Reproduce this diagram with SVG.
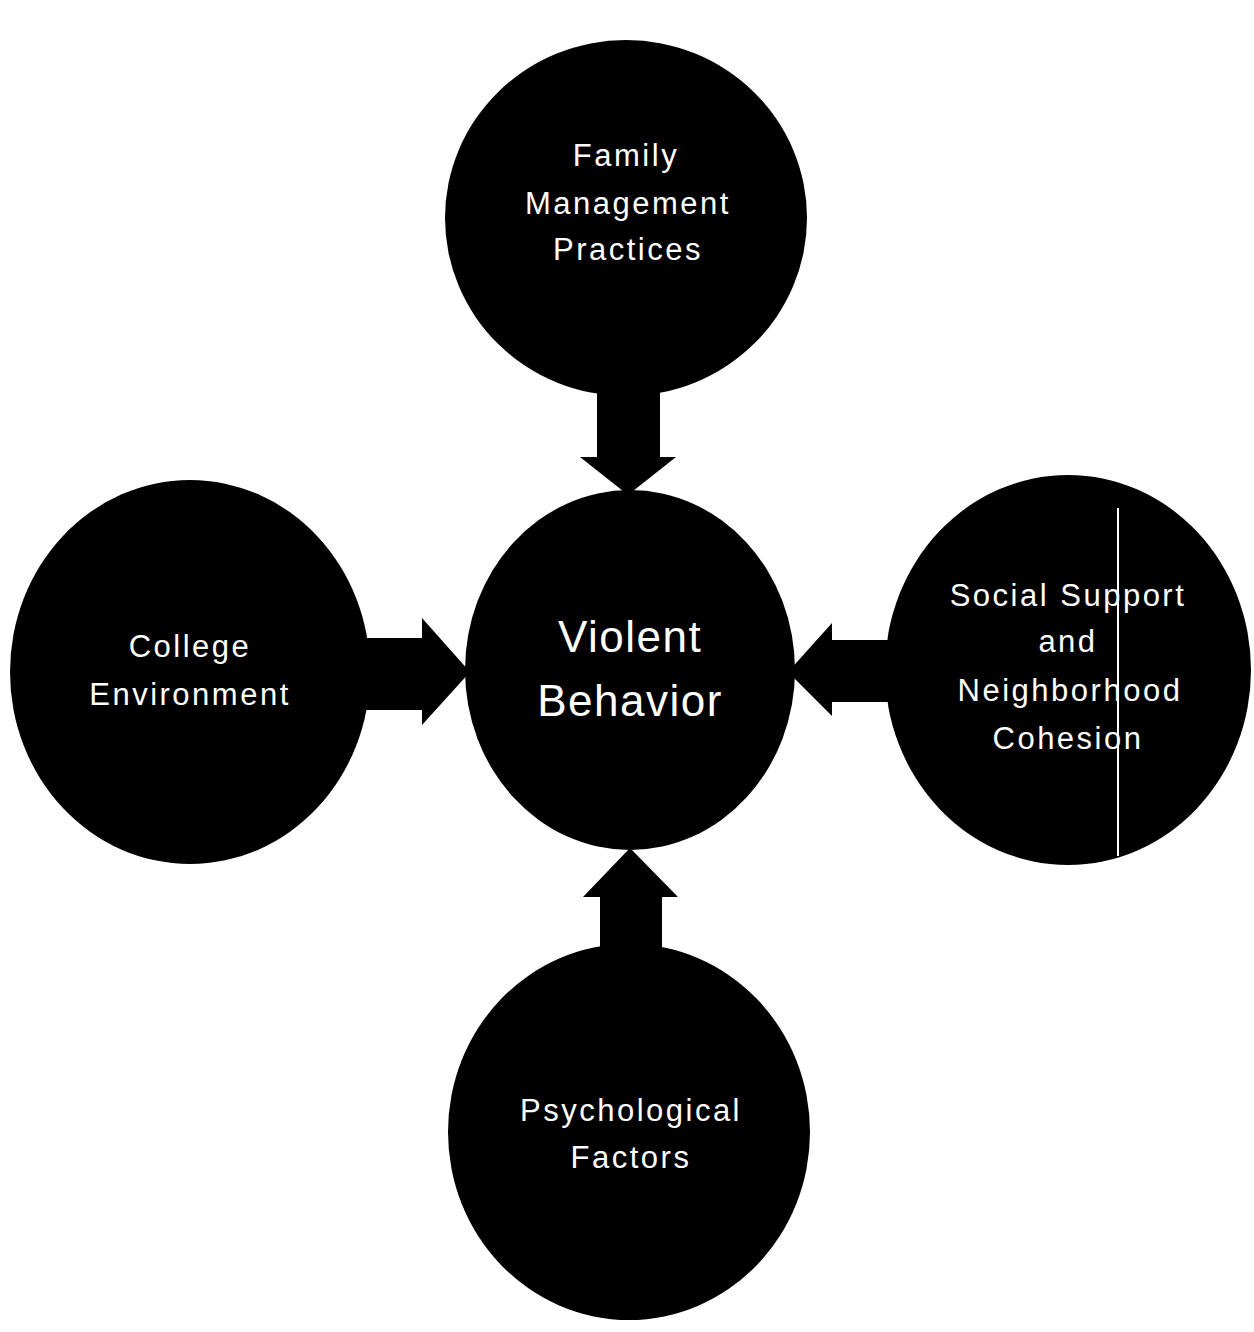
<svg xmlns="http://www.w3.org/2000/svg" width="1254" height="1332" viewBox="0 0 1254 1332">
<style>
.node{fill:#000}
.arrow{fill:#000}
text{fill:#fff;font-family:"Liberation Sans","DejaVu Sans",sans-serif;text-anchor:middle}
.t{font-size:31px;letter-spacing:2.5px}
.big{font-size:44px;letter-spacing:1.5px}
</style>
<rect width="1254" height="1332" fill="#fff"/>
<g id="connectors">
<path class="arrow" d="M597,390 L660,390 L660,457 L676,457 L628,495 L580,457 L597,457 Z"/>
<path class="arrow" d="M360,638 L422,638 L422,618 L470,672 L422,725 L422,710 L360,710 Z"/>
<path class="arrow" d="M890,640 L832,640 L832,623 L788,672 L832,716 L832,702 L890,702 Z"/>
<path class="arrow" d="M600,955 L662,955 L662,897 L678,897 L630,848 L583,897 L600,897 Z"/>
</g>
<g id="family">
<ellipse class="node" cx="626" cy="218" rx="181" ry="178"/>
<text class="t" x="626" y="166">Family</text>
<text class="t" x="628" y="214">Management</text>
<text class="t" x="628" y="260">Practices</text>
</g>
<g id="college">
<ellipse class="node" cx="190" cy="672" rx="180" ry="192"/>
<text class="t" x="190" y="657">College</text>
<text class="t" x="190" y="705">Environment</text>
</g>
<g id="violent">
<ellipse class="node" cx="630" cy="670" rx="165" ry="180"/>
<text class="big" x="630" y="652">Violent</text>
<text class="big" x="630" y="716">Behavior</text>
</g>
<g id="social">
<ellipse class="node" cx="1068" cy="670" rx="183" ry="195"/>
<text class="t" x="1068" y="606">Social Support</text>
<text class="t" x="1068" y="652">and</text>
<text class="t" x="1070" y="701">Neighborhood</text>
<text class="t" x="1068" y="749">Cohesion</text>
<line x1="1118" y1="508" x2="1118" y2="856" stroke="#fff" stroke-width="2"/>
</g>
<g id="psych">
<ellipse class="node" cx="629" cy="1132" rx="181" ry="188"/>
<text class="t" x="631" y="1121">Psychological</text>
<text class="t" x="631" y="1168">Factors</text>
</g>
</svg>
